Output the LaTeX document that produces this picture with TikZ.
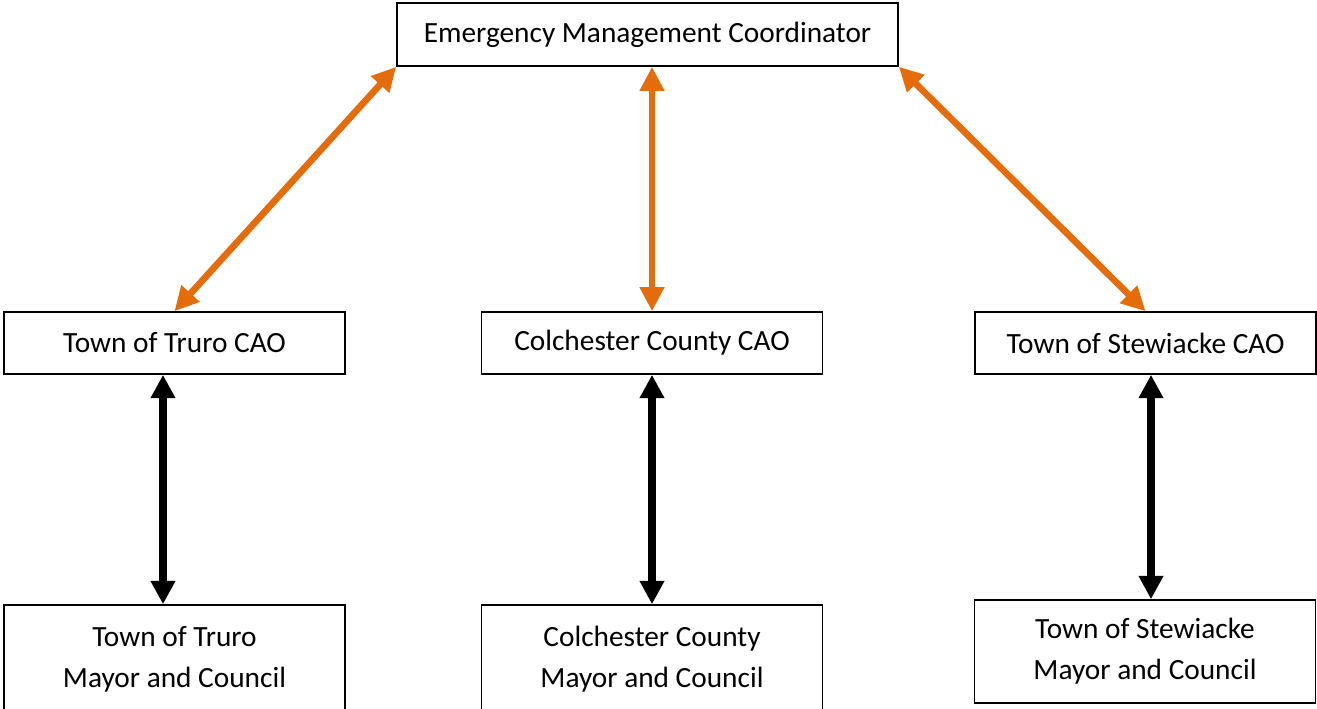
\documentclass[tikz,border=0pt]{standalone}
\usepackage{fontspec}
\setmainfont{Carlito}
\usetikzlibrary{arrows.meta,calc}
\definecolor{emorange}{RGB}{228,108,10}
\begin{document}
\begin{tikzpicture}[x=0.75pt,y=-0.75pt,
  box/.style={draw=black,line width=1.2pt,fill=white,inner sep=0pt,align=center,
    font=\fontsize{22}{30.75}\selectfont},
  topbox/.style={box,minimum width=375.75pt,minimum height=47.25pt},
  caobox/.style={box,minimum width=255.75pt,minimum height=46.5pt},
  councilbox/.style={box,minimum width=255.75pt,minimum height=77.25pt},
  orangearrow/.style={draw=emorange,line width=5pt,
    {Triangle[length=18pt,width=17.5pt]}-{Triangle[length=18pt,width=17.5pt]}},
  blackarrow/.style={draw=black,line width=5.5pt,
    {Triangle[length=17.5pt,width=17.5pt]}-{Triangle[length=17.5pt,width=17.5pt]}}]
\useasboundingbox (0,0) rectangle (1317,708);
\node[topbox] (emc) at (647.5,34.5) {Emergency Management Coordinator};
\node[caobox] (truro) at (174.5,343) {Town of Truro CAO};
\node[caobox] (colc) at (652,343) {Colchester County CAO};
\node[caobox] (stew) at (1145.5,343) {Town of Stewiacke CAO};
\node[councilbox,minimum height=81pt] (trurom) at (174.5,659) {Town of Truro\\Mayor and Council};
\node[councilbox,minimum height=81pt] (colcm) at (652,659) {Colchester County\\Mayor and Council};
\node[councilbox] (stewm) at (1145,651.5) {Town of Stewiacke\\Mayor and Council};
\draw[orangearrow] (emc.south west) -- (truro.north);
\draw[orangearrow] (colc.north |- emc.south) -- (colc.north);
\draw[orangearrow] (emc.south east) -- (stew.north);
\draw[blackarrow] ($(truro.south)+(-11.5,0)$) -- ($(trurom.north)+(-11.5,0)$);
\draw[blackarrow] (colc.south) -- (colcm.north);
\draw[blackarrow] ($(stew.south)+(5.5,0)$) -- ($(stewm.north)+(6,0)$);
\end{tikzpicture}
\end{document}
